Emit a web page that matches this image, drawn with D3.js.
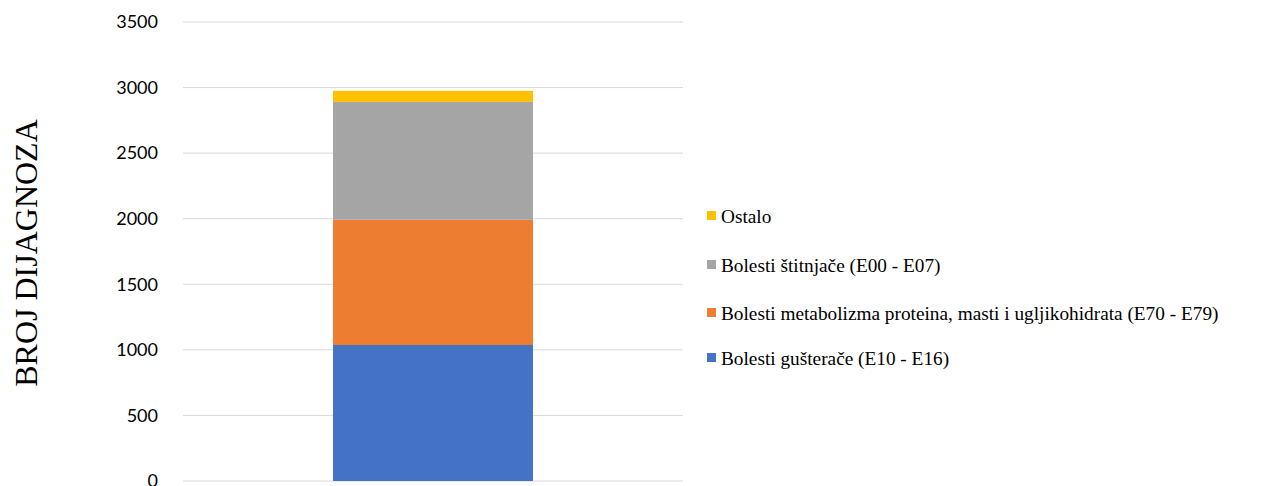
<!DOCTYPE html>
<html><head><meta charset="utf-8">
<script src="https://cdn.jsdelivr.net/npm/d3@7"></script>
<style>body{margin:0;background:#fff}</style>
</head><body>
<svg id="c" width="1274" height="486"></svg>
<script>
const categories = ["Ukupno"];
const seriesNames = ["Bolesti gušterače (E10 - E16)", "Bolesti metabolizma proteina, masti i ugljikohidrata (E70 - E79)", "Bolesti štitnjače (E00 - E07)", "Ostalo"];
const seriesValues = [[1037], [955], [899], [84]];
const seriesColors = ["#4472c4", "#ed7d31", "#a5a5a5", "#ffc000"];
const yTicks = [0, 500, 1000, 1500, 2000, 2500, 3000, 3500];
const yTitle = "BROJ DIJAGNOZA";

const svg = d3.select("#c");
const x0 = 183, x1 = 683, yTop = 22, yBot = 481;
const y = d3.scaleLinear().domain([0, 3500]).range([yBot, yTop]);
const x = d3.scaleBand().domain(categories).range([x0, x1]).paddingInner(0.6).paddingOuter(0.3);

// grid
svg.append("g").selectAll("line").data(yTicks).join("line")
  .attr("x1", x0).attr("x2", x1)
  .attr("y1", d => y(d)).attr("y2", d => y(d))
  .attr("stroke", "#d9d9d9").attr("stroke-width", 1);

// axis labels
const ax = svg.append("g").attr("transform", `translate(${x0},0)`)
  .call(d3.axisLeft(y).tickValues(yTicks).tickFormat(d3.format("d")).tickSize(0).tickPadding(25));
ax.select(".domain").remove();
ax.selectAll("text").attr("font-family", "Lato, 'Open Sans', sans-serif").attr("font-size", 18).attr("fill", "#000");

// stacks
const rows = categories.map((c, i) => {
  const o = {cat: c};
  seriesNames.forEach((s, j) => o[s] = seriesValues[j][i]);
  return o;
});
const stack = d3.stack().keys(seriesNames)(rows);
svg.append("g").selectAll("g").data(stack).join("g")
  .attr("fill", (d, i) => seriesColors[i])
  .selectAll("rect").data(d => d).join("rect")
  .attr("x", d => x(d.data.cat)).attr("width", x.bandwidth())
  .attr("y", d => y(d[1])).attr("height", d => y(d[0]) - y(d[1]));

// y title
svg.append("text").attr("transform", "translate(37,253) rotate(-90)")
  .attr("text-anchor", "middle").attr("font-family", "'Liberation Serif', 'Times New Roman', serif")
  .attr("font-size", 32).attr("fill", "#000").text(yTitle);

// legend (reverse order)
const legY = [216, 265, 313, 358];
const legOrder = seriesNames.map((s, i) => i).reverse();
const lg = svg.append("g");
legOrder.forEach((si, k) => {
  lg.append("rect").attr("x", 707).attr("y", legY[k] - 5).attr("width", 9).attr("height", 9).attr("fill", seriesColors[si]);
  lg.append("text").attr("x", 721).attr("y", legY[k]).attr("dy", "0.35em")
    .attr("font-family", "'Liberation Serif', 'Times New Roman', serif").attr("font-size", 19.3).attr("fill", "#000")
    .text(seriesNames[si]);
});
</script>
</body></html>
